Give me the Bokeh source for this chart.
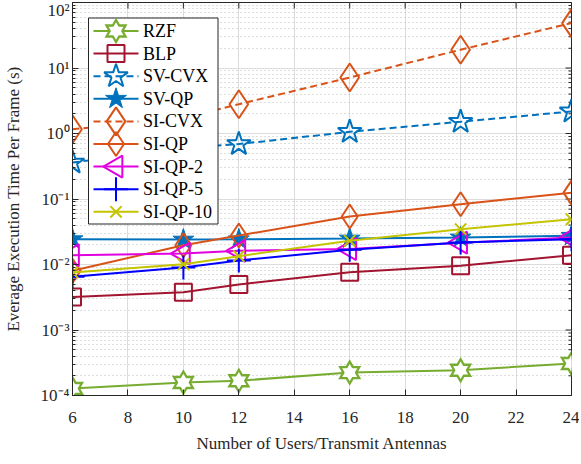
import math
from bokeh.plotting import figure
from bokeh.models import (FixedTicker, CustomJSTickFormatter, Range1d, LinearScale)
from bokeh.core.properties import value
from bokeh.embed import file_html
from bokeh.resources import INLINE

users = [6, 10, 12, 16, 20, 24]
rzf = [1.28e-4, 1.58e-4, 1.68e-4, 2.24e-4, 2.43e-4, 3.08e-4]
blp = [3.2e-3, 3.76e-3, 4.95e-3, 7.6e-3, 9.6e-3, 1.38e-2]
sv_cvx = [0.36, 0.60, 0.69, 1.06, 1.51, 2.17]
sv_qp = [2.43e-2, 2.40e-2, 2.42e-2, 2.49e-2, 2.58e-2, 2.74e-2]
si_cvx = [1.16, 1.73, 2.8, 7.16, 19.0, 48.5]
si_qp = [8.0e-3, 1.97e-2, 2.77e-2, 5.4e-2, 8.3e-2, 0.125]
si_qp2 = [1.39e-2, 1.47e-2, 1.62e-2, 1.72e-2, 2.15e-2, 2.58e-2]
si_qp5 = [6.5e-3, 9.0e-3, 1.15e-2, 1.68e-2, 2.17e-2, 2.43e-2]
si_qp10 = [7.55e-3, 1.01e-2, 1.34e-2, 2.3e-2, 3.46e-2, 4.9e-2]

labels = ["RZF", "BLP", "SV-CVX", "SV-QP", "SI-CVX", "SI-QP", "SI-QP-2", "SI-QP-5", "SI-QP-10"]
x_ticks = [6, 8, 10, 12, 14, 16, 18, 20, 22, 24]
y_exponents = [-4, -3, -2, -1, 0, 1, 2]

FONT = "Liberation Serif"
X_MIN, X_MAX = 6, 24
Y_MIN, Y_MAX = 1e-4, 1e2

FW, FH = 499, 393

p = figure(frame_width=FW, frame_height=FH, y_axis_type="log",
           x_range=Range1d(X_MIN, X_MAX), y_range=Range1d(Y_MIN, Y_MAX),
           output_backend="svg", toolbar_location=None,
           min_border_left=60, min_border_top=2, min_border_right=8,
           min_border_bottom=40)
p.outline_line_color = "#262626"
p.outline_line_width = 1
p.background_fill_color = "white"
# frame pixel coordinates measured from the frame's top-left corner (for the legend)
p.extra_x_ranges = {"px": Range1d(0, FW)}
p.extra_y_ranges = {"py": Range1d(FH, 0)}
p.extra_y_scales = {"py": LinearScale()}

y_major = [10.0 ** e for e in y_exponents]
y_minor = [k * 10.0 ** e for e in y_exponents[:-1] for k in range(2, 10)]
yt = FixedTicker(ticks=y_major, minor_ticks=y_minor)
xt = FixedTicker(ticks=x_ticks, minor_ticks=[])

fmt = CustomJSTickFormatter(code="""
const e = Math.round(Math.log10(tick));
const sup = {"-":"\\u207B","0":"\\u2070","1":"\\u00B9","2":"\\u00B2","3":"\\u00B3",
             "4":"\\u2074","5":"\\u2075","6":"\\u2076","7":"\\u2077","8":"\\u2078","9":"\\u2079"};
return "10" + String(e).split("").map(c => sup[c]).join("");
""")

p.yaxis[0].ticker = yt
p.yaxis[0].formatter = fmt
p.xaxis[0].ticker = xt

def style_axis(ax):
    ax.axis_line_color = "#262626"
    ax.major_tick_in = 6
    ax.major_tick_out = 0
    ax.minor_tick_in = 3
    ax.minor_tick_out = 0
    ax.major_tick_line_color = "#262626"
    ax.minor_tick_line_color = "#262626"
    ax.major_label_text_font = FONT
    ax.major_label_text_font_size = "17px"
    ax.major_label_text_color = "#262626"
    ax.axis_label_text_font = FONT
    ax.axis_label_text_font_size = "17px"
    ax.axis_label_text_font_style = "normal"
    ax.axis_label_text_color = "#262626"

style_axis(p.xaxis[0])
style_axis(p.yaxis[0])
p.xaxis[0].minor_tick_line_color = None
p.xaxis[0].axis_label = "Number of Users/Transmit Antennas"
p.xaxis[0].major_label_standoff = 16
p.xaxis[0].axis_label_standoff = 8
p.yaxis[0].axis_label = "Everage Execution Time Per Frame (s)"
p.yaxis[0].major_label_standoff = 3
p.yaxis[0].axis_label_standoff = 15

# box ticks on the top/right edges (markers centred on the edge; clipped to the frame)
p.scatter([X_MAX] * len(y_major), y_major, marker="dash", size=12, line_color="#262626", line_width=1)
p.scatter([X_MAX] * len(y_minor), y_minor, marker="dash", size=6, line_color="#262626", line_width=1)
p.scatter(x_ticks, [Y_MAX] * len(x_ticks), marker="dash", angle=math.pi / 2, size=12,
          line_color="#262626", line_width=1)

p.xgrid.grid_line_color = "#dcdcdc"
p.xgrid.grid_line_width = 1
p.ygrid.grid_line_color = "#dcdcdc"
p.ygrid.grid_line_width = 1
p.ygrid.minor_grid_line_color = "#bdbdbd"
p.ygrid.minor_grid_line_dash = "1 3"
p.ygrid.minor_grid_line_width = 1

LW = 2
green = "#77AC30"
series = [
    (rzf, green, "solid", [
        dict(marker="triangle", size=23, fill_color=green, line_color=None),
        dict(marker="inverted_triangle", size=23, fill_color=green, line_color=None),
        dict(marker="triangle", size=15, fill_color="white", line_color=None),
        dict(marker="inverted_triangle", size=15, fill_color="white", line_color=None)]),
    (blp, "#A2142F", "solid", [
        dict(marker="square", size=17, fill_color=None, line_color="#A2142F", line_width=LW)]),
    (sv_cvx, "#0072BD", "7 4", [
        dict(marker="star", size=25, fill_color=None, line_color="#0072BD", line_width=LW)]),
    (sv_qp, "#0072BD", "solid", [
        dict(marker="star", size=22, fill_color="#0072BD", line_color="#0072BD", line_width=1)]),
    (si_cvx, "#D95319", "7 4", [
        dict(marker="diamond", size=28, fill_color=None, line_color="#D95319", line_width=LW)]),
    (si_qp, "#D95319", "solid", [
        dict(marker="diamond", size=24, fill_color=None, line_color="#D95319", line_width=LW)]),
    (si_qp2, "#E000E0", "solid", [
        dict(marker="triangle", size=22, angle=math.pi / 2, fill_color=None,
             line_color="#E000E0", line_width=LW)]),
    (si_qp5, "#0000FF", "solid", [
        dict(marker="cross", size=24, line_color="#0000FF", line_width=LW)]),
    (si_qp10, "#C4C400", "solid", [
        dict(marker="x", size=16, line_color="#C4C400", line_width=LW)]),
]

for ys, color, dash, specs in series:
    p.line(users, ys, line_color=color, line_width=LW, line_dash=dash)
    for spec in specs:
        p.scatter(users, ys, **spec)

# legend drawn in frame pixel coordinates (from top-left of the frame)
LX0, LX1, LTOP, LBOT = 16, 145.5, 15.5, 221.5
ROW0, ROWH = 28.5, 22.6
p.quad(left=[LX0], right=[LX1], top=[LTOP], bottom=[LBOT], fill_color="white",
       line_color="#262626", line_width=1, x_range_name="px", y_range_name="py")
rows = [ROW0 + ROWH * i for i in range(len(labels))]
for (ys, color, dash, specs), ry in zip(series, rows):
    p.line([21, 66], [ry, ry], line_color=color, line_width=LW, line_dash=dash,
           x_range_name="px", y_range_name="py")
    for spec in specs:
        p.scatter([43.5], [ry], x_range_name="px", y_range_name="py", **spec)
p.text([70.5] * len(labels), rows, text=labels, text_baseline="middle", text_align="left",
       text_font=value(FONT), text_font_size="18px", text_color="black",
       x_range_name="px", y_range_name="py")

open("out.html", "w").write(file_html(p, INLINE))
